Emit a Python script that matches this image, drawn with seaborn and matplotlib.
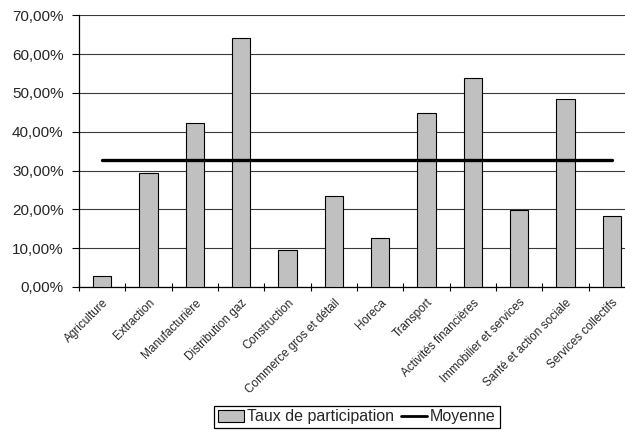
import matplotlib
matplotlib.use("Agg")
import matplotlib.pyplot as plt
from matplotlib.ticker import FixedLocator, FuncFormatter, MultipleLocator
from matplotlib.patches import Patch
from matplotlib.lines import Line2D
import numpy as np
import pandas as pd
import seaborn as sns

# Participation rate by sector (%) and overall average
secteurs = [
    "Agriculture", "Extraction", "Manufacturière", "Distribution gaz",
    "Construction", "Commerce gros et détail", "Horeca", "Transport",
    "Activités financières", "Immobilier et services",
    "Santé et action sociale", "Services collectifs",
]
taux = [2.75, 29.45, 42.25, 64.2, 9.5, 23.45, 12.7, 44.85, 53.95, 19.85, 48.5, 18.2]
moyenne = 32.7

serie_barres = "Taux de participation"
serie_ligne = "Moyenne"

df = pd.DataFrame({"secteur": secteurs, "taux": taux})
df["moyenne"] = moyenne

sns.set_style("white")
plt.rcParams["font.family"] = ["Liberation Sans", "DejaVu Sans"]

W, H = 625, 432
fig = plt.figure(figsize=(W / 100, H / 100), dpi=100)
ax = fig.add_axes([79 / W, (H - 287) / H, 556 / W, (287 - 15.3) / H])

sns.barplot(data=df, x="secteur", y="taux", ax=ax, color="#c0c0c0",
            edgecolor="black", linewidth=0.8, width=0.4, saturation=1,
            zorder=3)
sns.lineplot(data=df, x="secteur", y="moyenne", ax=ax, color="black",
             linewidth=2.4, zorder=4)

n = len(secteurs)
ax.set_xlim(-0.5, n - 0.5)
ax.set_ylim(0, 70)
ax.set_xlabel("")
ax.set_ylabel("")

# horizontal gridlines every 10 %
ax.yaxis.set_major_locator(MultipleLocator(10))
ax.yaxis.set_major_formatter(FuncFormatter(lambda v, _: f"{v:.2f}".replace(".", ",") + "%"))
ax.grid(axis="y", color="#3a3a3a", linewidth=0.8, zorder=0)
ax.set_axisbelow(True)

for s in ("top", "right"):
    ax.spines[s].set_visible(False)
for s in ("left", "bottom"):
    ax.spines[s].set_color("black")
    ax.spines[s].set_linewidth(0.9)

ax.tick_params(axis="y", which="major", direction="out", length=5, width=0.8,
               color="black", pad=6, labelsize=11, left=True)

# category labels at the centres, tick marks at category boundaries
ax.xaxis.set_major_locator(FixedLocator(np.arange(n)))
ax.set_xticklabels(secteurs, rotation=45, ha="right", va="top",
                   rotation_mode="anchor", fontsize=8.5)
ax.tick_params(axis="x", which="major", length=0, pad=7)
ax.xaxis.set_minor_locator(FixedLocator(np.arange(n + 1) - 0.5))
ax.tick_params(axis="x", which="minor", direction="inout", length=6, width=0.8,
               color="black", bottom=True)

handles = [
    Patch(facecolor="#c0c0c0", edgecolor="black", linewidth=0.8, label=serie_barres),
    Line2D([0], [0], color="black", linewidth=2.0, label=serie_ligne),
]
leg = fig.legend(handles=handles, loc="center", bbox_to_anchor=(357 / W, 15 / H),
                 ncol=2, frameon=True, fancybox=False, shadow=False,
                 fontsize=11.5, handlelength=1.6, handleheight=0.8,
                 handletextpad=0.2, columnspacing=0.45, borderpad=0.25,
                 borderaxespad=0)
leg.get_frame().set_edgecolor("black")
leg.get_frame().set_linewidth(0.9)
leg.get_frame().set_facecolor("white")
leg.get_frame().set_alpha(1)

fig.savefig("out.png", dpi=100, facecolor="white")
